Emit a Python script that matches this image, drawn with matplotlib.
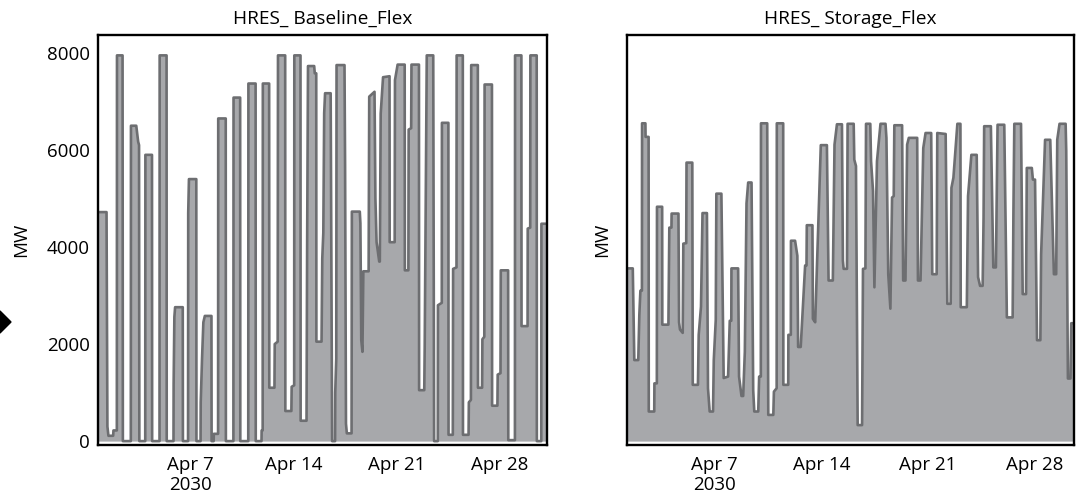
"""
HRES dispatch, April 2030: baseline flex vs storage flex.
"""
import numpy as np
import matplotlib
matplotlib.use("Agg")
import matplotlib.pyplot as plt
from matplotlib.patches import Polygon

plt.rcParams["font.family"] = ["Open Sans", "DejaVu Sans"]

FILL = "#a7a8ab"
LINE = "#6d6e71"

# (days after 2030-04-01 00:00, MW)
baseline_flex = [
    (-0.30, 4720), (0.27, 4720), (0.33, 300), (0.40, 110), (0.72, 110),
    (0.74, 220), (0.97, 220), (0.98, 7950), (1.36, 7950), (1.38, 0),
    (1.92, 0), (1.93, 6500), (2.29, 6500), (2.42, 6170), (2.48, 6100), (2.50, 0),
    (2.90, 0), (2.91, 5900), (3.36, 5900), (3.37, 0),
    (3.87, 0), (3.88, 7950), (4.35, 7950), (4.36, 0),
    (4.82, 0), (4.83, 1180), (4.88, 2560), (4.93, 2760), (5.45, 2760), (5.46, 0),
    (5.81, 0), (5.82, 4700), (5.87, 5400), (6.37, 5400), (6.38, 0),
    (6.66, 0), (6.67, 800), (6.76, 1700), (6.85, 2450), (6.95, 2580),
    (7.40, 2580), (7.41, 0),
    (7.55, 0), (7.56, 150), (7.85, 150), (7.86, 6650), (8.37, 6650), (8.38, 0),
    (8.89, 0), (8.90, 7080), (9.35, 7080), (9.36, 0),
    (9.90, 0), (9.91, 7370), (10.40, 7370), (10.41, 0),
    (10.80, 0), (10.81, 220), (10.88, 220), (10.89, 7370), (11.32, 7370),
    (11.33, 1100), (11.68, 1100), (11.70, 2000), (11.90, 2050), (11.92, 7950),
    (12.41, 7950), (12.42, 620), (12.83, 620), (12.85, 1120), (13.02, 1150),
    (13.03, 7950), (13.45, 7950), (13.46, 420), (13.86, 420), (13.90, 4000),
    (13.96, 7730), (14.38, 7730), (14.42, 7580), (14.52, 7580), (14.53, 2050),
    (14.88, 2050), (14.93, 3770), (15.00, 4290), (15.06, 6760), (15.12, 7170),
    (15.50, 7170), (15.60, 0),
    (15.80, 0), (15.81, 1000), (15.88, 1700), (15.90, 7750), (16.44, 7750),
    (16.48, 5700), (16.54, 360), (16.60, 160), (16.92, 160), (16.94, 4730),
    (17.48, 4730), (17.52, 4490), (17.58, 2080), (17.66, 1840), (17.72, 3500),
    (18.08, 3500), (18.12, 7100), (18.48, 7200), (18.54, 5000), (18.62, 4100),
    (18.80, 3700), (18.84, 3700), (18.90, 6750), (19.06, 7500), (19.50, 7520),
    (19.51, 4100), (19.85, 4100), (19.87, 7440), (20.05, 7760), (20.53, 7760),
    (20.54, 3520), (20.78, 3520), (20.80, 6420), (20.97, 6450), (20.99, 7760),
    (21.50, 7760), (21.51, 1050), (21.86, 1050), (21.89, 1950), (22.00, 6750),
    (22.03, 7950), (22.47, 7950), (22.53, 0),
    (22.78, 0), (22.79, 2800), (23.05, 2850), (23.06, 6560), (23.50, 6560),
    (23.51, 130), (23.80, 130), (23.82, 3550), (24.05, 3580), (24.06, 7950),
    (24.48, 7950), (24.49, 130), (24.87, 130), (24.89, 800), (25.03, 850),
    (25.05, 7750), (25.50, 7750), (25.51, 1100), (25.79, 1100), (25.81, 2100),
    (25.94, 2150), (25.96, 7350), (26.46, 7350), (26.47, 730), (26.83, 730),
    (26.85, 1370), (27.04, 1400), (27.06, 3520), (27.56, 3520), (27.57, 20),
    (28.02, 20), (28.03, 7950), (28.46, 7950), (28.47, 2370), (28.88, 2370),
    (28.89, 4380), (29.06, 4400), (29.07, 7950), (29.50, 7950), (29.51, 0),
    (29.81, 0), (29.82, 4480), (30.25, 4480),
]

storage_flex = [
    (0.20, 3560), (0.62, 3560), (0.72, 1670), (0.98, 1670), (1.05, 2600),
    (1.12, 3100), (1.22, 3100), (1.23, 6550), (1.45, 6550), (1.46, 6270),
    (1.66, 6270), (1.67, 610), (2.03, 610), (2.04, 1190), (2.20, 1190),
    (2.21, 4830), (2.55, 4830), (2.56, 2400), (2.96, 2400), (3.02, 4400),
    (3.16, 4400), (3.17, 4690), (3.62, 4690), (3.66, 2450), (3.72, 2300),
    (3.90, 2230), (3.94, 4070), (4.13, 4080), (4.15, 5740), (4.53, 5740),
    (4.56, 1160), (4.90, 1160), (4.95, 2190), (5.10, 2770), (5.20, 4700),
    (5.49, 4700), (5.56, 1090), (5.67, 610), (5.89, 610), (5.94, 1670),
    (6.07, 2500), (6.11, 5100), (6.44, 5100), (6.59, 1300), (6.88, 1330),
    (6.99, 2480), (7.09, 2480), (7.10, 3560), (7.54, 3560), (7.60, 1330),
    (7.76, 930), (7.87, 930), (7.98, 1840), (8.09, 4900), (8.20, 5330),
    (8.42, 5330), (8.53, 1050), (8.60, 610), (8.86, 610), (8.92, 1330),
    (9.03, 1330), (9.04, 6550), (9.45, 6550), (9.52, 540), (9.85, 540),
    (9.89, 1020), (10.07, 1090), (10.08, 6550), (10.50, 6550), (10.51, 1160),
    (10.83, 1160), (10.84, 2190), (11.00, 2190), (11.01, 4130), (11.28, 4130),
    (11.43, 3820), (11.48, 1940), (11.65, 1940), (11.94, 3620), (12.03, 3620),
    (12.05, 4450), (12.42, 4450), (12.45, 2520), (12.60, 2450), (12.97, 6100),
    (13.37, 6100), (13.48, 3310), (13.76, 3310), (13.87, 6110), (14.03, 6530),
    (14.36, 6530), (14.42, 3720), (14.47, 3550), (14.69, 3550), (14.73, 6540),
    (15.13, 6540), (15.17, 5800), (15.28, 5670), (15.39, 330), (15.68, 330),
    (15.74, 3550), (15.90, 3560), (15.94, 6540), (16.22, 6540), (16.27, 5770),
    (16.40, 5150), (16.49, 3170), (16.66, 5770), (16.89, 6540), (17.22, 6540),
    (17.28, 6250), (17.40, 3440), (17.54, 2730), (17.65, 5020), (17.76, 5050),
    (17.80, 6510), (18.31, 6510), (18.38, 3310), (18.53, 3310), (18.64, 6110),
    (18.75, 6250), (19.30, 6250), (19.35, 3310), (19.52, 3310), (19.70, 6040),
    (19.85, 6350), (20.22, 6350), (20.29, 3440), (20.58, 3440), (20.62, 6350),
    (21.17, 6330), (21.28, 2830), (21.50, 2830), (21.55, 5220), (21.68, 5430),
    (21.94, 6540), (22.14, 6540), (22.16, 2760), (22.56, 2760), (22.64, 5050),
    (22.86, 5900), (23.21, 5900), (23.30, 3380), (23.43, 3200), (23.60, 3200),
    (23.66, 4600), (23.70, 6490), (24.14, 6490), (24.30, 3580), (24.47, 3580),
    (24.58, 6520), (25.02, 6520), (25.19, 2550), (25.57, 2550), (25.62, 4680),
    (25.68, 6540), (26.12, 6540), (26.23, 3030), (26.45, 3030), (26.50, 5630),
    (26.83, 5630), (26.90, 5390), (27.04, 5390), (27.17, 2080), (27.39, 2080),
    (27.44, 3850), (27.70, 6210), (28.04, 6210), (28.28, 3440), (28.43, 3440),
    (28.50, 6210), (28.65, 6540), (29.05, 6540), (29.09, 5980), (29.20, 1290),
    (29.37, 1290), (29.42, 2430), (29.65, 2430),
]

titles = ["HRES_ Baseline_Flex", "HRES_ Storage_Flex"]
tick_dates = ["2030-04-07", "2030-04-14", "2030-04-21", "2030-04-28"]
tick_labels = ["Apr 7\n2030", "Apr 14", "Apr 21", "Apr 28"]
y_ticks = [0, 2000, 4000, 6000, 8000]

START = np.datetime64("2030-04-01T00:00")
W, H = 1078, 492


def to_time(days):
    """Days after START -> datetime64."""
    minutes = np.round(np.asarray(days) * 24 * 60).astype("timedelta64[m]")
    return START + minutes


def draw(ax, series, title, xlim, show_y, label_x):
    """Draw one area panel."""
    days, mw = zip(*series)
    t = to_time(days)
    ax.fill_between(t, mw, 0, color=FILL, lw=0)
    ax.plot(t, mw, color=LINE, lw=1.9)
    ax.set_xlim(to_time(xlim[0]), to_time(xlim[1]))
    ax.set_ylim(-80, 8370)
    ax.set_xticks([np.datetime64(d) for d in tick_dates])
    ax.set_xticklabels(tick_labels, fontsize=13.5, linespacing=1.1)
    ax.set_yticks(y_ticks)
    if show_y:
        ax.set_yticklabels([str(v) for v in y_ticks], fontsize=13.5)
    else:
        ax.set_yticklabels([])
    ax.tick_params(axis="x", length=0, pad=8)
    ax.tick_params(axis="y", length=0, pad=6)
    ax.set_title(title, fontsize=13.8, pad=8)
    ax.set_ylabel("MW", fontsize=13.5)
    ax.yaxis.set_label_coords(label_x, 0.5)
    for sp in ax.spines.values():
        sp.set_linewidth(1.7)
        sp.set_color("black")


fig = plt.figure(figsize=(10.78, 4.92), dpi=100)
ax1 = fig.add_axes([98 / W, 1 - 445 / H, 449 / W, 410 / H])
ax2 = fig.add_axes([627 / W, 1 - 445 / H, 447 / W, 410 / H])

draw(ax1, baseline_flex, titles[0], (-0.31, 30.2), True, (30 - 98) / 449)
draw(ax2, storage_flex, titles[1], (0.24, 29.6), False, (611 - 627) / 447)

# black pointer cut off at the left edge
fig.patches.append(Polygon([(-10 / W, 1 - 322 / H), (0, 1 - 311 / H),
                            (11 / W, 1 - 322 / H), (0, 1 - 333 / H)],
                           closed=True, color="black",
                           transform=fig.transFigure, figure=fig))

fig.savefig("out.png", dpi=100)
